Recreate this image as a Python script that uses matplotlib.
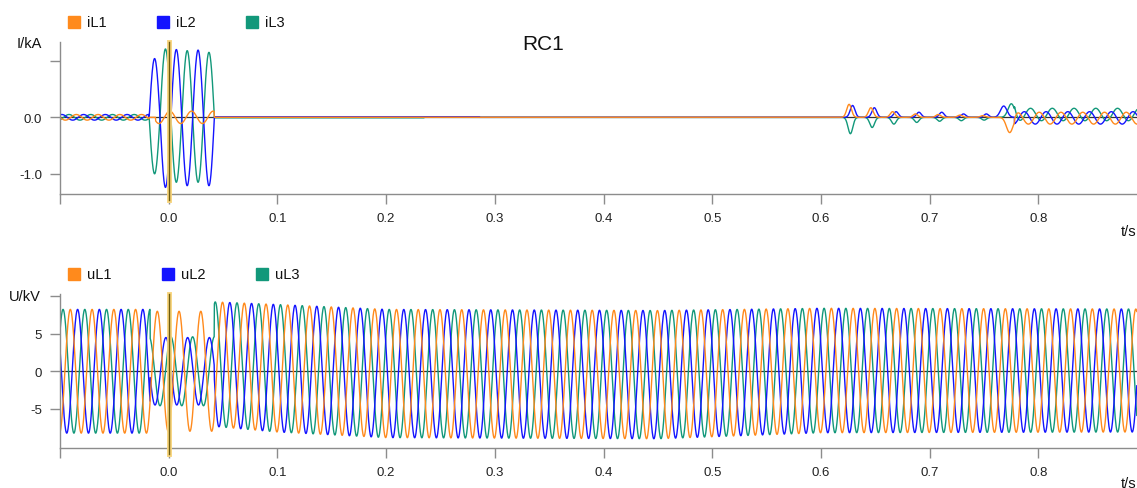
import numpy as np
import matplotlib
matplotlib.use('Agg')
import matplotlib.pyplot as plt
from matplotlib.patches import Rectangle

plt.rcParams['font.family'] = ['Liberation Sans', 'DejaVu Sans']

# ---------------- data ----------------
FREQ = 50.0                      # Hz
T_START, T_END = -0.1, 0.8906    # s
DT = 0.0002

series_names_i = ['iL1', 'iL2', 'iL3']
series_names_u = ['uL1', 'uL2', 'uL3']
colors = ['#ff8a1c', '#1414ff', '#12987a']

# voltages (kV): amplitude and time of a positive peak
u_pre_amp = [8.25, 8.25, 8.25]
u_peak_t = [-0.0105, -0.0038, 0.0028]
fault_on, fault_off = -0.017, 0.042
u_fault_amp = [8.0, 4.5, 4.6]
u_fault_peak_t = [-0.0105, -0.0026, 0.0020]
# after the fault: envelope knots (time, amplitude, common offset)
u_post_t = [0.042, 0.10, 0.20, 0.45, 0.60, 0.89]
u_post_amp = [8.30, 8.50, 8.55, 8.55, 8.30, 8.20]
u_post_off = [0.95, 0.40, -0.30, -0.45, 0.10, 0.10]

# currents (kA)
i_pre_amp = [0.05, 0.05, 0.05]
i_pre_peak_t = [-0.005, 0.0017, -0.0117]
i_fault_start = -0.018           # zero crossing where L2/L3 fault current starts
i_fault_half = 0.010
iL2_fault_lobes = [1.04, -1.24, 1.20, -1.21, 1.19, -1.21]
iL3_fault_lobes = [-1.00, 1.21, -1.15, 1.18, -1.15, 1.15]
iL1_fault_amp, iL1_fault_peak_t, iL1_fault_from = 0.11, 0.001, -0.012
i_post_level = [0.0, 0.009, -0.008]
i_post_until = [0.62, 0.286, 0.235]

# pulse train after re-energising (0.62 s ... 0.75 s)
pulse_t = [0.627, 0.647, 0.667, 0.688, 0.709, 0.729, 0.750]
pulse_L1 = [0.23, 0.17, 0.10, 0.06, 0.05, 0.04, 0.03]
pulse_L2 = [0.21, 0.17, 0.10, 0.09, 0.09, 0.06, 0.06]
pulse_L3 = [-0.29, -0.18, -0.12, -0.09, -0.07, -0.06, -0.05]
pulse_shift = [-0.0012, 0.002, 0.0]

# second switching at 0.767 s, then steady oscillation
sw2_t = [0.7735, 0.768, 0.775]
sw2_amp = [-0.27, 0.20, 0.24]
osc_from = 0.778
osc_amp = [0.105, 0.11, 0.11]
osc_off = [-0.015, -0.01, 0.05]
osc_peak_t = [0.8407, 0.827, 0.8327]

# ---------------- build the curves ----------------
t = np.arange(T_START, T_END, DT)
w = 2 * np.pi * FREQ


def wave(amp, peak_t):
    return amp * np.cos(w * (t - peak_t))


def lobes(t0, half, peaks):
    y = np.zeros_like(t)
    for k, p in enumerate(peaks):
        a = t0 + k * half
        m = (t >= a) & (t < a + half)
        y[m] = p * np.sin(np.pi * (t[m] - a) / half)
    return y


def pulse(tc, amp, width=0.0022):
    return amp * np.exp(-0.5 * ((t - tc) / width) ** 2)


pre = t < fault_on
flt = (t >= fault_on) & (t < fault_off)
post = t >= fault_off
amp_post = np.interp(t, u_post_t, u_post_amp)
off_post = np.interp(t, u_post_t, u_post_off)

u = []
for k in range(3):
    y = np.where(pre, wave(u_pre_amp[k], u_peak_t[k]), 0.0)
    y = np.where(flt, wave(u_fault_amp[k], u_fault_peak_t[k]), y)
    y = np.where(post, np.cos(w * (t - u_peak_t[k])) * amp_post + off_post, y)
    u.append(y)

i_pre = t < i_fault_start
i_end = i_fault_start + len(iL2_fault_lobes) * i_fault_half
cur = []
for k in range(3):
    y = np.where(i_pre, wave(i_pre_amp[k], i_pre_peak_t[k]), 0.0)
    y = np.where((t >= i_end) & (t < i_post_until[k]), i_post_level[k], y)
    cur.append(y)
cur[0] = cur[0] + np.where((t >= iL1_fault_from) & (t < i_end),
                           wave(iL1_fault_amp, iL1_fault_peak_t), 0.0)
cur[1] = cur[1] + lobes(i_fault_start, i_fault_half, iL2_fault_lobes)
cur[2] = cur[2] + lobes(i_fault_start, i_fault_half, iL3_fault_lobes)
for k, amps in enumerate([pulse_L1, pulse_L2, pulse_L3]):
    for tc, a in zip(pulse_t, amps):
        cur[k] = cur[k] + pulse(tc + pulse_shift[k], a)
    cur[k] = cur[k] + pulse(sw2_t[k], sw2_amp[k], 0.003)
    cur[k] = cur[k] + np.where(t >= osc_from, wave(osc_amp[k], osc_peak_t[k]) + osc_off[k], 0.0)

# ---------------- figure ----------------
W, H = 1137, 489
fig = plt.figure(figsize=(W / 100, H / 100), dpi=100)
ax1 = fig.add_axes([60 / W, 1 - 195 / H, 1 - 60 / W, 152 / H])
ax2 = fig.add_axes([60 / W, 1 - 449 / H, 1 - 60 / W, 154 / H])

spine_c = '#8c8c8c'
for ax in (ax1, ax2):
    ax.set_xlim(T_START, T_END)
    for s in ('top', 'right'):
        ax.spines[s].set_visible(False)
    for s in ('left', 'bottom'):
        ax.spines[s].set_color(spine_c)
        ax.spines[s].set_linewidth(1.0)
    ax.tick_params(direction='out', length=7, width=1, color=spine_c,
                   labelsize=9.5, labelcolor='#222222', pad=6)
    xt = np.round(np.arange(-0.1, 0.81, 0.1), 1)
    ax.set_xticks(xt)
    ax.set_xticklabels([''] + ['%.1f' % v for v in xt[1:]])
    ax.axhline(0, color='#333333', lw=0.9, zorder=1)
    # cursor at t = 0
    ax.axvline(0, ymin=-0.04, ymax=1, color='#f8d47c', lw=3.5, zorder=5, clip_on=False)
    ax.axvline(0, ymin=-0.04, ymax=1, color='#6a5a10', lw=1, zorder=6, clip_on=False)

ax1.set_ylim(-1.357, 1.333)
ax1.set_yticks([-1, 0, 1])
ax1.set_yticklabels(['-1.0', '0.0', ''])
ax2.set_ylim(-10.23, 10.3)
ax2.set_yticks([-5, 0, 5, 10])
ax2.set_yticklabels(['-5', '0', '5', ''])

for k in (2, 1, 0):
    ax1.plot(t, cur[k], color=colors[k], lw=1.0, zorder=2 + (3 - k) * 0.1)
    ax2.plot(t, u[k], color=colors[k], lw=1.0, zorder=2)

# texts
fig.text(543 / W, 1 - 44 / H, 'RC1', fontsize=15, ha='center', va='center', color='#111111')
fig.text(17 / W, 1 - 44 / H, 'I/kA', fontsize=10.5, ha='left', va='center', color='#111111')
fig.text(9 / W, 1 - 297 / H, 'U/kV', fontsize=10.5, ha='left', va='center', color='#111111')
fig.text(1 - 1 / W, 1 - 232 / H, 't/s', fontsize=10.5, ha='right', va='center', color='#111111')
fig.text(1 - 1 / W, 1 - 484 / H, 't/s', fontsize=10.5, ha='right', va='center', color='#111111')

# legends
for names, y0, xs in ((series_names_i, 23, (68, 157, 246)), (series_names_u, 275, (68, 162, 256))):
    for k, name in enumerate(names):
        fig.add_artist(Rectangle((xs[k] / W, 1 - (y0 + 6) / H), 12 / W, 12 / H,
                                 transform=fig.transFigure, color=colors[k]))
        fig.text((xs[k] + 19) / W, 1 - y0 / H, name, fontsize=10.5, ha='left', va='center',
                 color='#111111')

fig.savefig('out.png', dpi=100)
